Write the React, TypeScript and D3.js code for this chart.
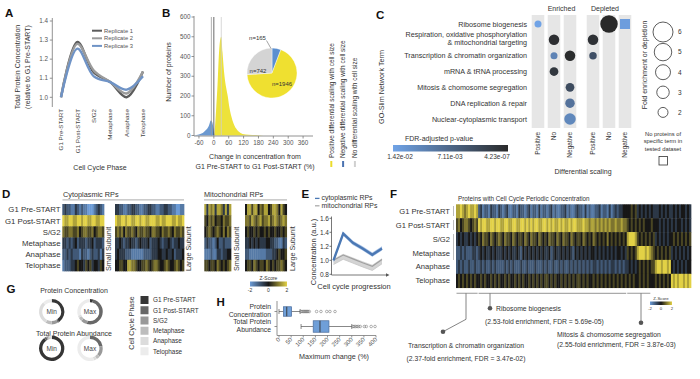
import React from "react";
import * as d3 from "d3";

const FONT = "'Liberation Sans', Arial, Helvetica, sans-serif";
const TXT = "#333";

// ---------------- Panel A ----------------
const phases = ["G1 Pre-START", "G1 Post-START", "S/G2", "Metaphase", "Anaphase", "Telophase"];
const replicate1 = [1.0, 1.29, 1.13, 1.08, 1.0, 1.135];
const replicate2 = [1.0, 1.28, 1.14, 1.08, 1.02, 1.135];
const replicate3 = [1.0, 1.255, 1.11, 1.08, 1.04, 1.11];
const replicateNames = ["Replicate 1", "Replicate 2", "Replicate 3"];
const replicateColors = ["#5c5c5c", "#9b9b9b", "#6f93c6"];
const aTicks = [1.0, 1.1, 1.2, 1.3, 1.4];

// ---------------- Panel B ----------------
const bTicksX = [-60, 0, 60, 120, 180, 240, 300, 360];
const bTicksY = [0, 100, 200, 300, 400, 500, 600];
const posX = [2, 5, 10, 15, 20, 25, 30, 35, 43, 50, 56, 63, 70, 80, 90, 100, 116, 140, 170, 200];
const posCounts = [0, 50, 150, 260, 400, 480, 500, 420, 300, 240, 200, 140, 100, 60, 35, 20, 8, 4, 2, 0];
const negX = [-80, -60, -50, -40, -30, -20, -12, -6, -1, 2];
const negCounts = [0, 5, 10, 18, 30, 50, 76, 66, 30, 0];
const refLines = [-10, 0, 30];
const refLineColors = ["#9a9a9a", "#444", "#cfcfcf"];
const pieCounts = [165, 1946, 742];
const pieLabels = ["n=165", "n=1946", "n=742"];
const pieColors = ["#5b8fd0", "#efe030", "#d4d4d4"];
const bLegend = ["Positive differential scaling with cell size", "Negative differential scaling with cell size", "No differential scaling with cell size"];
const bLegendColors = ["#ecdc2c", "#4a72b0", "#d0d0d0"];

// ---------------- Panel C ----------------
const cTerms = [
  ["Ribosome biogenesis"],
  ["Respiration, oxidative phosphorylation", "& mitochondrial targeting"],
  ["Transcription & chromatin organization"],
  ["mRNA & tRNA processing"],
  ["Mitosis & chomosome segregation"],
  ["DNA replication & repair"],
  ["Nuclear-cytoplasmic transport"],
];
const cColumns = ["Positive", "No", "Negative"];
const cGroups = ["Enriched", "Depleted"];
// [termIndex, groupIndex, columnIndex, fold, pValue, shape]
const cPoints: [number, number, number, number, number, string][] = [
  [0, 0, 0, 0.8, 0.0142, "circle"],
  [0, 1, 1, 5.0, 1e-6, "circle"],
  [0, 1, 2, 1.5, 0.0135, "square"],
  [1, 0, 1, 2.2, 0.0005, "circle"],
  [1, 1, 0, 2.2, 0.0008, "circle"],
  [2, 0, 1, 0.8, 0.0105, "circle"],
  [2, 0, 2, 2.2, 0.0003, "circle"],
  [2, 1, 0, 1.0, 0.0045, "circle"],
  [3, 0, 1, 1.5, 0.0015, "circle"],
  [4, 0, 2, 1.5, 0.004, "circle"],
  [5, 0, 2, 1.8, 0.0085, "circle"],
  [6, 0, 2, 2.6, 0.011, "circle"],
];
const sizeLegend = [6, 5, 4, 3, 2];
const pLabels = ["1.42e-02", "7.11e-03", "4.23e-07"];

// ---------------- Panel D ----------------
const dRows = phases;
const cytoSmall = [
  "23221132121100012321",
  "87788778878877887788",
  "65566556456655645665",
  "33232342333233423332",
  "22323222132212322313",
  "12223345443545344354",
];
const cytoLarge = [
  "3322112233221122332211223322110011",
  "8778878877887887788877877888778778",
  "5656465565465565546655465565465565",
  "3343233433234333423334323343233433",
  "3433322211111122223334433433423334",
  "4455447766544556545665445654456545",
];
const mitoSmall = [
  "7376737763737",
  "5465645546556",
  "4565456546465",
  "2322124223222",
  "1112113323344",
  "5545546545456",
];
const mitoLarge = [
  "47757746577457764754",
  "66576567566756765676",
  "45445454454544544545",
  "33434343334433221132",
  "22111111112223345445",
  "45546545546545455654",
];

// ---------------- Panel E ----------------
const eCyto = [1.0, 1.38, 1.25, 1.17, 1.08, 1.17];
const eMito = [1.0, 1.075, 1.02, 0.965, 0.915, 1.01];
const eTicks = [0.8, 1.0, 1.2, 1.4, 1.6];

// ---------------- Panel F ----------------
const fRows = [
  "77876787787" + "2312213221" + "3212311221" + "3221231221" + "3122123121" + "1223121123" + "2213121122" + "3122131232" + "3344" + "44545" + "3434343" + "43" + "33434343" + "3434344343",
  "56456654565" + "8788778878" + "8778877887" + "7887878788" + "7788787877" + "8787787887" + "7787767767" + "6767676676" + "6766" + "54545" + "4545444" + "54" + "44343434" + "3434434343",
  "34343343434" + "5465546545" + "6546554654" + "5546546554" + "6545465546" + "5465546545" + "5465454654" + "5454645454" + "5454" + "78887" + "5454545" + "45" + "34343434" + "4545454545",
  "22323222332" + "3434334343" + "3343434334" + "3243434343" + "4343342343" + "3434343243" + "4343434434" + "3434343434" + "4343" + "54545" + "7888787" + "65" + "45454545" + "3434343434",
  "23232232232" + "2323223232" + "2223232322" + "2322322232" + "2232322322" + "3232232323" + "2323232332" + "3232323323" + "2323" + "34343" + "4545454" + "55" + "78878878" + "4343434344",
  "45454545454" + "4545445454" + "5445454454" + "5454454545" + "4545545454" + "4545454545" + "5454544545" + "4545454545" + "4545" + "45454" + "4545454" + "44" + "54545454" + "8787887878",
];
const fGroups = [[0, 10], [11, 84], [85, 96]];

// ---------------- Panel G ----------------
const gPhaseColors = ["#363636", "#686868", "#999999", "#bdbdbd", "#dcdcdc", "#ececec"];
const concMin = [0.4, 0.02, 0.08, 0.08, 0.3, 0.12];
const concMax = [0.04, 0.5, 0.08, 0.05, 0.03, 0.3];
const abundMin = [0.9, 0.03, 0.02, 0.02, 0.02, 0.01];
const abundMax = [0.0, 0.22, 0.14, 0.05, 0.04, 0.55];

// ---------------- Panel H ----------------
const hCats = ["Protein Concentration", "Total Protein Abundance"];
const hStats = [
  { lo: 0, q1: 18, med: 32, q3: 52, hi: 87 },
  { lo: 91, q1: 141, med: 169, q3: 206, hi: 300 },
];
const hOutliers = [
  [90, 95, 100, 104, 108, 112, 116, 120, 125, 155, 173, 197, 210, 231],
  [305, 310, 316, 322, 328, 335, 352, 360, 380, 396],
];
const hTicks = [0, 50, 100, 150, 200, 250, 300, 350, 400];

const zColor = d3.scaleLinear<string>().domain([-2, 0, 2]).range(["#6b9bd6", "#171717", "#e2d146"]).clamp(true);
const digitZ = (c: string) => (parseInt(c, 10) - 4) / 2;

function Heat({ rows, x0, x1, y0, y1 }: { rows: string[]; x0: number; x1: number; y0: number; y1: number }) {
  const n = d3.max(rows, (r) => r.length) as number;
  const x = d3.scaleBand<number>().domain(d3.range(n)).range([x0, x1]);
  const y = d3.scaleBand<number>().domain(d3.range(rows.length)).range([y0, y1]);
  const cells: any[] = [];
  rows.forEach((r, i) => {
    for (let j = 0; j < n; j++) {
      const c = r[Math.min(j, r.length - 1)];
      cells.push(
        <rect key={i + "-" + j} x={x(j)} y={y(i)} width={x.bandwidth() + 0.35} height={y.bandwidth() + 0.35} fill={zColor(digitZ(c))} />
      );
    }
  });
  return <g>{cells}</g>;
}

function Rot({ x, y, children, anchor = "middle", size = 7, fill = TXT, weight }: any) {
  return (
    <text transform={`translate(${x},${y}) rotate(-90)`} textAnchor={anchor} fontSize={size} fill={fill} fontWeight={weight}>
      {children}
    </text>
  );
}

function ZBar({ id, x, y, w, h, fs }: any) {
  const s = d3.scaleLinear().domain([-2, 2]).range([x, x + w]);
  return (
    <g>
      <defs>
        <linearGradient id={id} x1="0" x2="1" y1="0" y2="0">
          <stop offset="0%" stopColor={zColor(-2)} />
          <stop offset="50%" stopColor={zColor(0)} />
          <stop offset="100%" stopColor={zColor(2)} />
        </linearGradient>
      </defs>
      <text x={x + w / 2} y={y - 1.8} textAnchor="middle" fontSize={fs} fill={TXT}>Z-Score</text>
      <rect x={x} y={y} width={w} height={h} fill={`url(#${id})`} />
      {[-2, 0, 2].map((t) => (
        <text key={t} x={s(t)} y={y + h + fs + 0.8} textAnchor="middle" fontSize={fs} fill={TXT}>{t}</text>
      ))}
    </g>
  );
}

function PanelA() {
  const x = d3.scalePoint<string>().domain(phases).range([61, 143]);
  const y = d3.scaleLinear().domain([1.0, 1.4]).range([97.3, 21]);
  const line = d3.line<number>().x((_, i) => x(phases[i]) as number).y((d) => y(d)).curve(d3.curveCatmullRom.alpha(0.5));
  const reps = [replicate1, replicate2, replicate3];
  return (
    <g>
      <line x1={52.3} x2={52.3} y1={18} y2={107} stroke="#777" strokeWidth={0.8} />
      {aTicks.map((t) => (
        <g key={t}>
          <line x1={49.8} x2={52.3} y1={y(t)} y2={y(t)} stroke="#777" strokeWidth={0.8} />
          <text x={48} y={y(t) + 2.2} textAnchor="end" fontSize={6.3} fill="#555">{t.toFixed(1)}</text>
        </g>
      ))}
      {reps.map((r, i) => (
        <path key={i} d={line(r) as string} fill="none" stroke={replicateColors[i]} strokeWidth={2.4} />
      ))}
      {phases.map((p) => (
        <Rot key={p} x={(x(p) as number) + 2.2} y={109} anchor="end" size={6.2} fill="#444">{p}</Rot>
      ))}
      <text x={100} y={170} textAnchor="middle" fontSize={7} fill={TXT}>Cell Cycle Phase</text>
      <Rot x={20} y={67} size={7}>Total Protein Concentration</Rot>
      <Rot x={30} y={67} size={7}>(relative to G1 Pre-START)</Rot>
      {replicateNames.map((n, i) => (
        <g key={n}>
          <line x1={92} x2={102} y1={30.7 + i * 7.6} y2={30.7 + i * 7.6} stroke={replicateColors[i]} strokeWidth={2} />
          <text x={104} y={32.8 + i * 7.6} fontSize={5.8} fill="#555">{n}</text>
        </g>
      ))}
    </g>
  );
}

function PanelB() {
  const x = d3.scaleLinear().domain([-80, 400]).range([194, 313]);
  const y = d3.scaleLinear().domain([0, 600]).range([135.5, 17]);
  const posPath = d3.area<number>().curve(d3.curveMonotoneX).x((_, i) => x(posX[i])).y0(y(0)).y1((d) => y(d))(posCounts) as string;
  const negPath = d3.area<number>().curve(d3.curveMonotoneX).x((_, i) => x(negX[i])).y0(y(0)).y1((d) => y(d))(negCounts) as string;
  const pie = d3.pie<number>().sort(null)(pieCounts);
  const arc = d3.arc<d3.PieArcDatum<number>>().innerRadius(0).outerRadius(25);
  const cx = 272, cy = 73;
  return (
    <g>
      <path d={posPath} fill="#ede23a" />
      <path d={negPath} fill="#6a98d0" />
      {refLines.map((v, i) => (
        <line key={v} x1={x(v)} x2={x(v)} y1={17} y2={135.5} stroke={refLineColors[i]} strokeWidth={0.8} />
      ))}
      <line x1={194} x2={194} y1={16} y2={136} stroke="#777" strokeWidth={0.8} />
      <line x1={194} x2={313} y1={136} y2={136} stroke="#777" strokeWidth={0.8} />
      {bTicksY.map((t) => (
        <g key={t}>
          <line x1={191.5} x2={194} y1={y(t)} y2={y(t)} stroke="#777" strokeWidth={0.8} />
          <text x={190.5} y={y(t) + 2.2} textAnchor="end" fontSize={6.3} fill="#555">{t}</text>
        </g>
      ))}
      {bTicksX.map((t) => (
        <g key={t}>
          <line x1={x(t)} x2={x(t)} y1={136} y2={138.5} stroke="#777" strokeWidth={0.8} />
          <text x={x(t)} y={145} textAnchor="middle" fontSize={6.3} fill="#555">{t}</text>
        </g>
      ))}
      <Rot x={171} y={72} size={7}>Number of proteins</Rot>
      <text x={255} y={158.5} textAnchor="middle" fontSize={7} fill={TXT}>Change in concentration from</text>
      <text x={255} y={168.5} textAnchor="middle" fontSize={7} fill={TXT}>G1 Pre-START to G1 Post-START (%)</text>
      <g transform={`translate(${cx},${cy})`}>
        {pie.map((s, i) => (
          <path key={i} d={arc(s) as string} fill={pieColors[i]} stroke="#fff" strokeWidth={0.4} />
        ))}
      </g>
      <line x1={266.5} x2={271} y1={40.5} y2={48.5} stroke="#666" strokeWidth={0.6} />
      <text x={257.5} y={40.3} textAnchor="middle" fontSize={6} fill={TXT}>{pieLabels[0]}</text>
      <text x={258} y={73.3} textAnchor="middle" fontSize={6} fill={TXT}>{pieLabels[2]}</text>
      <text x={282} y={86} textAnchor="middle" fontSize={6} fill={TXT}>{pieLabels[1]}</text>
      {bLegend.map((t, i) => (
        <g key={t}>
          <Rot x={333.5 + i * 11.8} y={158} anchor="start" size={6.5}>{t}</Rot>
          <line x1={331.3 + i * 11.8} x2={331.3 + i * 11.8} y1={161} y2={167} stroke={bLegendColors[i]} strokeWidth={2} />
        </g>
      ))}
    </g>
  );
}

function PanelC() {
  const yPos = d3.scalePoint<number>().domain(d3.range(cTerms.length)).range([24, 119]);
  const xGroups = [
    d3.scalePoint<string>().domain(cColumns).range([538, 570]),
    d3.scalePoint<string>().domain(cColumns).range([593, 625]),
  ];
  const r = d3.scaleLinear().domain([2, 6]).range([5, 10]);
  const pColor = d3.scaleLinear<string>().domain([4.23e-7, 1.42e-2]).range(["#2a2a2a", "#70a3e6"]).clamp(true);
  return (
    <g>
      <defs>
        <linearGradient id="pgrad" x1="0" x2="1" y1="0" y2="0">
          <stop offset="0%" stopColor={pColor(1.42e-2)} />
          <stop offset="100%" stopColor={pColor(4.23e-7)} />
        </linearGradient>
      </defs>
      {cGroups.map((g, gi) => (
        <g key={g}>
          <text x={gi === 0 ? 561.5 : 605} y={11} textAnchor="middle" fontSize={7} fill={TXT}>{g}</text>
          {cColumns.map((c) => {
            const cx = xGroups[gi](c) as number;
            return (
              <g key={c}>
                <rect x={cx - 6.3} y={15} width={12.6} height={113} fill="#e6e6e6" />
                <Rot x={cx + 2.4} y={132} anchor="end" size={6.5}>{c}</Rot>
              </g>
            );
          })}
        </g>
      ))}
      {cTerms.map((lines, i) => (
        <g key={i}>
          {lines.map((l, k) => (
            <text key={k} x={527} y={(lines.length === 1 ? (yPos(i) as number) + 2.5 : (yPos(i) as number) - 2.5 + k * 8)} textAnchor="end" fontSize={7.2} fill={TXT}>{l}</text>
          ))}
        </g>
      ))}
      {cPoints.map(([ti, gi, ci, f, p, shape], i) => {
        const cx = xGroups[gi](cColumns[ci]) as number;
        const cy = yPos(ti) as number;
        const rr = r(f);
        return shape === "square" ? (
          <rect key={i} x={cx - 5} y={cy - 5} width={10} height={10} fill={pColor(p)} />
        ) : (
          <circle key={i} cx={cx} cy={cy} r={rr} fill={pColor(p)} />
        );
      })}
      <text x={583} y={174} textAnchor="middle" fontSize={7} fill={TXT}>Differential scaling</text>
      <Rot x={384} y={87} size={7.2}>GO-Slim Network Term</Rot>
      <text x={439} y={141} textAnchor="middle" fontSize={7} fill={TXT}>FDR-adjusted p-value</text>
      <rect x={393} y={145} width={115} height={6.5} fill="url(#pgrad)" />
      {pLabels.map((l, i) => (
        <text key={l} x={[400, 450, 497][i]} y={159} textAnchor="middle" fontSize={6.5} fill={TXT}>{l}</text>
      ))}
      {sizeLegend.map((f, i) => (
        <g key={f}>
          <circle cx={663} cy={32 + i * 20.1} r={r(f)} fill="none" stroke="#333" strokeWidth={0.8} />
          <text x={678} y={34.3 + i * 20.1} fontSize={6.5} fill={TXT}>{f}</text>
        </g>
      ))}
      <Rot x={647} y={65} size={7}>Fold enrichment or depletion</Rot>
      {["No proteins of", "specific term in", "tested dataset"].map((t, i) => (
        <text key={t} x={663} y={136 + i * 7.4} textAnchor="middle" fontSize={5.8} fill={TXT}>{t}</text>
      ))}
      <rect x={659} y={156.5} width={8.5} height={8.5} fill="none" stroke="#333" strokeWidth={0.8} />
    </g>
  );
}

function PanelD() {
  const y = d3.scaleBand<string>().domain(dRows).range([204, 271]);
  const blocks = [
    { rows: cytoSmall, x0: 62.3, x1: 104, label: "Small Subunit", lx: 111 },
    { rows: cytoLarge, x0: 115, x1: 184, label: "Large Subunit", lx: 190.5 },
    { rows: mitoSmall, x0: 204.3, x1: 231, label: "Small Subunit", lx: 239 },
    { rows: mitoLarge, x0: 245, x1: 286.7, label: "Large Subunit", lx: 295 },
  ];
  return (
    <g>
      <text x={63} y={196.5} fontSize={7.3} fill={TXT}>Cytoplasmic RPs</text>
      <line x1={62.5} x2={184} y1={199.8} y2={199.8} stroke="#bbb" strokeWidth={1.3} />
      <text x={204} y={196.5} fontSize={7.3} fill={TXT}>Mitochondrial RPs</text>
      <line x1={204} x2={287} y1={199.8} y2={199.8} stroke="#bbb" strokeWidth={1.3} />
      {dRows.map((r) => (
        <text key={r} x={60.5} y={(y(r) as number) + y.bandwidth() / 2 + 2.8} textAnchor="end" fontSize={7.8} fill={TXT}>{r}</text>
      ))}
      {blocks.map((b, i) => (
        <g key={i}>
          <Heat rows={b.rows} x0={b.x0} x1={b.x1} y0={204} y1={271} />
          <Rot x={b.lx} y={271} anchor="start" size={7.2}>{b.label}</Rot>
        </g>
      ))}
      <ZBar id="zd" x={250} y={281.5} w={37} h={5} fs={5} />
    </g>
  );
}

function PanelE() {
  const x = d3.scalePoint<string>().domain(phases).range([333.5, 382]);
  const y = d3.scaleLinear().domain([0.8, 1.6]).range([274.3, 218.3]);
  const line = d3.line<number>().x((_, i) => x(phases[i]) as number).y((d) => y(d));
  const band = (vals: number[], lo: number, hi: number) =>
    d3.area<number>().x((_, i) => x(phases[i]) as number).y0((d) => y(d - lo)).y1((d) => y(d + hi))(vals) as string;
  return (
    <g>
      <path d={band(eMito, 0.06, 0.02)} fill="#d4d4d4" />
      <path d={line(eMito) as string} fill="none" stroke="#a0a0a0" strokeWidth={1.2} />
      <path d={line(eMito.map((v) => v - 0.06)) as string} fill="none" stroke="#c4c4c4" strokeWidth={0.8} />
      <path d={band(eCyto, 0.03, 0.03)} fill="#a9c3e6" />
      <path d={line(eCyto) as string} fill="none" stroke="#4b78b4" strokeWidth={2.4} />
      <line x1={331.5} x2={331.5} y1={216.5} y2={275} stroke="#555" strokeWidth={0.8} />
      <line x1={331.5} x2={386} y1={275} y2={275} stroke="#555" strokeWidth={0.8} />
      <path d="M386,273.3 L389.5,275 L386,276.7 Z" fill="#555" />
      {eTicks.map((t) => (
        <g key={t}>
          <line x1={329.5} x2={331.5} y1={y(t)} y2={y(t)} stroke="#555" strokeWidth={0.8} />
          <text x={329} y={y(t) + 2.3} textAnchor="end" fontSize={6.5} fill={TXT}>{t.toFixed(1)}</text>
        </g>
      ))}
      <Rot x={315.5} y={252} size={7.5}>Concentration (a.u.)</Rot>
      <text x={354} y={289} textAnchor="middle" fontSize={7.5} fill={TXT}>Cell cycle progression</text>
      <line x1={315} x2={319.5} y1={198.4} y2={198.4} stroke="#4b78b4" strokeWidth={1.3} />
      <text x={321.5} y={200.4} fontSize={6.9} fill={TXT}>cytoplasmic RPs</text>
      <line x1={315} x2={319.5} y1={205.8} y2={205.8} stroke="#aaa" strokeWidth={1.3} />
      <text x={321.5} y={207.8} fontSize={6.9} fill={TXT}>mitochondrial RPs</text>
    </g>
  );
}

function PanelF() {
  const y = d3.scaleBand<string>().domain(phases).range([204.3, 287.7]);
  const n = fRows[0].length;
  const x = d3.scaleBand<number>().domain(d3.range(n)).range([456, 691]);
  return (
    <g>
      <text x={458} y={200.5} fontSize={6.3} fill={TXT}>Proteins with Cell Cycle Periodic Concentration</text>
      {phases.map((p) => (
        <text key={p} x={450} y={(y(p) as number) + y.bandwidth() / 2 + 2.6} textAnchor="end" fontSize={7.6} fill={TXT}>{p}</text>
      ))}
      <line x1={453.5} x2={453.5} y1={206} y2={216} stroke="#bbb" strokeWidth={1} />
      <line x1={453.5} x2={453.5} y1={220} y2={230} stroke="#bbb" strokeWidth={1} />
      <line x1={453.5} x2={453.5} y1={234} y2={260} stroke="#bbb" strokeWidth={1} />
      <Heat rows={fRows} x0={456} x1={691} y0={204.3} y1={287.7} />
      {fGroups.map(([a, b], i) => (
        <line key={i} x1={(x(a) as number) + 0.5} x2={(x(b) as number) + x.bandwidth() - 0.5} y1={293.3} y2={293.3} stroke="#aaa" strokeWidth={1.2} />
      ))}
      <line x1={490} x2={490} y1={293.3} y2={308.3} stroke="#666" strokeWidth={0.8} />
      <circle cx={490} cy={308.3} r={2.3} fill="#555" />
      <text x={496} y={310.5} fontSize={6.8} fill={TXT}>Ribosome biogenesis</text>
      <text x={485} y={324} fontSize={6.8} fill={TXT}>(2.53-fold enrichment, FDR = 5.69e-05)</text>
      <polyline points="466,293.3 466,319.3 443,331.7" fill="none" stroke="#666" strokeWidth={0.8} />
      <circle cx={443} cy={331.7} r={2.3} fill="#555" />
      <text x={466} y={347.5} textAnchor="middle" fontSize={6.8} fill={TXT}>Transcription &amp; chromatin organization</text>
      <text x={466} y={360.5} textAnchor="middle" fontSize={6.8} fill={TXT}>(2.37-fold enrichment, FDR = 3.47e-02)</text>
      <line x1={641} x2={641} y1={293.3} y2={322.7} stroke="#666" strokeWidth={0.8} />
      <circle cx={641} cy={322.7} r={2.3} fill="#555" />
      <text x={557} y={336.5} fontSize={6.8} fill={TXT}>Mitosis &amp; chomosome segregation</text>
      <text x={557} y={346.8} fontSize={6.8} fill={TXT}>(2.55-fold enrichment, FDR = 3.87e-03)</text>
      <ZBar id="zf" x={650} y={301.5} w={22} h={3.5} fs={4.3} />
    </g>
  );
}

function Donut({ cx, cy, vals, label }: any) {
  const pie = d3.pie<number>().sort(null)(vals);
  const arc = d3.arc<d3.PieArcDatum<number>>().innerRadius(9.4).outerRadius(12.7);
  return (
    <g transform={`translate(${cx},${cy})`}>
      {pie.map((s, i) => (
        <path key={i} d={arc(s) as string} fill={gPhaseColors[i]} />
      ))}
      <text x={0} y={2.3} textAnchor="middle" fontSize={6.5} fill="#444">{label}</text>
    </g>
  );
}

function PanelG() {
  return (
    <g>
      <text x={74} y={293} textAnchor="middle" fontSize={7} fill={TXT}>Protein Concentration</text>
      <Donut cx={51.7} cy={311.7} vals={concMin} label="Min" />
      <Donut cx={90} cy={311.7} vals={concMax} label="Max" />
      <text x={74} y={336} textAnchor="middle" fontSize={7} fill={TXT}>Total Protein Abundance</text>
      <Donut cx={51.7} cy={348.3} vals={abundMin} label="Min" />
      <Donut cx={90} cy={348.3} vals={abundMax} label="Max" />
      <Rot x={134} y={323} size={7}>Cell Cycle Phase</Rot>
      {phases.map((p, i) => (
        <g key={p}>
          <rect x={140.5} y={296 + i * 10.25} width={8} height={8} fill={gPhaseColors[i]} />
          <text x={153} y={302.3 + i * 10.25} fontSize={6.4} fill={TXT}>{p}</text>
        </g>
      ))}
    </g>
  );
}

function PanelH() {
  const x = d3.scaleLinear().domain([0, 400]).range([279, 376]);
  const y = d3.scalePoint<string>().domain(hCats).range([311.5, 326.5]);
  const heights = [9.5, 11.5];
  const labelLines = [["Protein", "Concentration"], ["Total Protein", "Abundance"]];
  return (
    <g>
      <line x1={277} x2={277} y1={301} y2={335.5} stroke="#777" strokeWidth={0.8} />
      <line x1={277} x2={376} y1={335.5} y2={335.5} stroke="#777" strokeWidth={0.8} />
      {hTicks.map((t) => (
        <g key={t}>
          <line x1={x(t)} x2={x(t)} y1={335.5} y2={337.5} stroke="#777" strokeWidth={0.8} />
          <text transform={`translate(${x(t) + 1.5},${340}) rotate(-45)`} textAnchor="end" fontSize={6} fill="#555">{t}</text>
        </g>
      ))}
      {hCats.map((c, i) => {
        const cy = y(c) as number;
        const s = hStats[i];
        const h = heights[i];
        return (
          <g key={c}>
            <line x1={274.5} x2={277} y1={cy} y2={cy} stroke="#777" strokeWidth={0.8} />
            {labelLines[i].map((l, k) => (
              <text key={l} x={271} y={cy - 2.3 + k * 7.3} textAnchor="end" fontSize={6.8} fill={TXT}>{l}</text>
            ))}
            <line x1={x(s.lo)} x2={x(s.q1)} y1={cy} y2={cy} stroke="#555" strokeWidth={0.7} />
            <line x1={x(s.q3)} x2={x(s.hi)} y1={cy} y2={cy} stroke="#555" strokeWidth={0.7} />
            <line x1={x(s.lo)} x2={x(s.lo)} y1={cy - 2.5} y2={cy + 2.5} stroke="#555" strokeWidth={0.7} />
            <line x1={x(s.hi)} x2={x(s.hi)} y1={cy - 2.5} y2={cy + 2.5} stroke="#555" strokeWidth={0.7} />
            <rect x={x(s.q1)} y={cy - h / 2} width={x(s.q3) - x(s.q1)} height={h} fill="#6f9fd8" stroke="#4a6c9c" strokeWidth={0.7} />
            <line x1={x(s.med)} x2={x(s.med)} y1={cy - h / 2} y2={cy + h / 2} stroke="#333" strokeWidth={0.9} />
            {hOutliers[i].map((o, k) => (
              <circle key={k} cx={x(o)} cy={cy} r={1.3} fill="none" stroke="#666" strokeWidth={0.5} />
            ))}
          </g>
        );
      })}
      <text x={334} y={359} textAnchor="middle" fontSize={7.2} fill={TXT}>Maximum change (%)</text>
    </g>
  );
}

export default function App() {
  const letters: [string, number, number][] = [
    ["A", 5, 17], ["B", 162, 17], ["C", 376, 18.5], ["D", 2, 198], ["E", 301.5, 198],
    ["F", 390, 198], ["G", 6.5, 292.7], ["H", 216.5, 306],
  ];
  return (
    <svg width={700} height={379} style={{ position: "absolute", left: 0, top: 0, background: "#fff" }} fontFamily={FONT}>
      <rect x={0} y={0} width={700} height={379} fill="#fff" />
      <PanelA />
      <PanelB />
      <PanelC />
      <PanelD />
      <PanelE />
      <PanelF />
      <PanelG />
      <PanelH />
      {letters.map(([l, x, y]) => (
        <text key={l} x={x} y={y} fontSize={11.5} fontWeight="bold" fill="#111">{l}</text>
      ))}
    </svg>
  );
}
